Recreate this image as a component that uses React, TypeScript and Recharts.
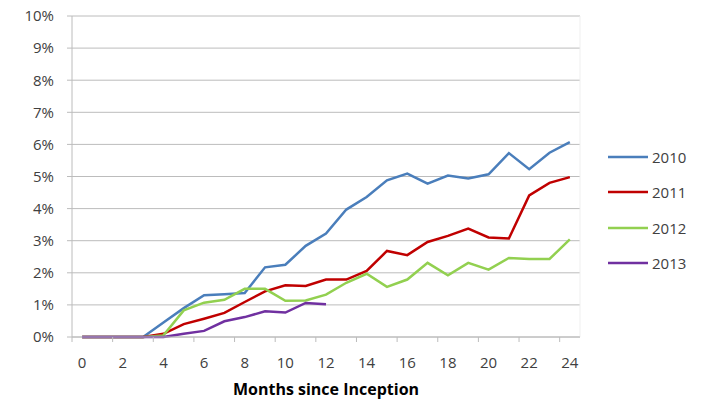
import {
  CartesianGrid,
  Legend,
  Line,
  LineChart,
  ReferenceLine,
  XAxis,
  YAxis,
} from "recharts";

const months = [0, 1, 2, 3, 4, 5, 6, 7, 8, 9, 10, 11, 12, 13, 14, 15, 16, 17, 18, 19, 20, 21, 22, 23, 24];
const monthLabels = [0, 2, 4, 6, 8, 10, 12, 14, 16, 18, 20, 22, 24];
const percentTicks = [0, 1, 2, 3, 4, 5, 6, 7, 8, 9, 10];

const y2010 = [0, 0, 0, 0, 0.45, 0.9, 1.3, 1.33, 1.37, 2.17, 2.25, 2.84, 3.22, 3.97, 4.36, 4.88, 5.09, 4.78, 5.03, 4.94, 5.07, 5.73, 5.23, 5.74, 6.07];
const y2011 = [0, 0, 0, 0, 0.1, 0.4, 0.57, 0.75, 1.09, 1.42, 1.61, 1.59, 1.79, 1.79, 2.06, 2.68, 2.55, 2.96, 3.15, 3.38, 3.1, 3.07, 4.41, 4.8, 4.98];
const y2012 = [0, 0, 0, 0, 0.05, 0.83, 1.07, 1.16, 1.5, 1.5, 1.13, 1.14, 1.32, 1.69, 1.97, 1.56, 1.79, 2.31, 1.92, 2.31, 2.1, 2.46, 2.43, 2.43, 3.04];
const y2013 = [0, 0, 0, 0, 0, 0.1, 0.19, 0.49, 0.62, 0.8, 0.76, 1.06, 1.02];

const series = [
  { key: "2010", color: "#4A7EBB" },
  { key: "2011", color: "#C00000" },
  { key: "2012", color: "#92D050" },
  { key: "2013", color: "#7030A0" },
];

const data = months.map((m, i) => ({
  month: m,
  "2010": y2010[i],
  "2011": y2011[i],
  "2012": y2012[i],
  "2013": i < y2013.length ? y2013[i] : null,
}));

// labels sit on the even months, tick marks fall on the category boundaries
const labelTicks = monthLabels.flatMap((m) => [m - 0.5, m]);

const FONT = "'Open Sans', Lato, sans-serif";
const TEXT = "#404040";
const GRID = "#bcbcbc";

const MonthTick = (props: any) => {
  const { x, y, payload } = props;
  if (payload.value % 1 !== 0) {
    return <line x1={x} x2={x} y1={y} y2={y + 5} stroke={GRID} strokeWidth={1} />;
  }
  return (
    <text x={x} y={y + 31} textAnchor="middle" fontSize={15} fill={TEXT} fontFamily={FONT}>
      {payload.value}
    </text>
  );
};

const renderLegend = () => (
  <div style={{ fontFamily: FONT }}>
    {series.map((s) => (
      <div key={s.key} style={{ display: "flex", alignItems: "center", height: 35.5 }}>
        <svg width={40} height={4}>
          <line x1={0} x2={40} y1={2} y2={2} stroke={s.color} strokeWidth={2.5} />
        </svg>
        <span style={{ fontSize: 15, color: TEXT, marginLeft: 4 }}>{s.key}</span>
      </div>
    ))}
  </div>
);

export default function App() {
  return (
    <div style={{ position: "absolute", left: 0, top: 0, width: 705, height: 400, background: "#fff", fontFamily: FONT }}>
      <LineChart width={705} height={400} data={data} margin={{ top: 16, right: 125, bottom: 0, left: 12 }}>
        <CartesianGrid vertical={false} stroke={GRID} strokeWidth={1} />
        <XAxis
          dataKey="month"
          type="number"
          domain={[-0.5, 24.5]}
          ticks={labelTicks}
          interval={0}
          height={63}
          tickLine={false}
          tickSize={0}
          tickMargin={0}
          axisLine={{ stroke: GRID }}
          tick={<MonthTick />}
          label={{
            value: "Months since Inception",
            position: "insideBottom",
            offset: 5,
            style: { fontSize: 16, fontWeight: "bold", fill: "#000", fontFamily: FONT },
          }}
        />
        <YAxis
          width={60}
          domain={[0, 10]}
          ticks={percentTicks}
          interval={0}
          tickFormatter={(v) => `${v}%`}
          tickSize={5}
          tickMargin={13}
          tickLine={{ stroke: GRID }}
          axisLine={{ stroke: GRID }}
          tick={{ fontSize: 15, fill: TEXT, fontFamily: FONT }}
        />
        <ReferenceLine x={24.5} stroke="#efefef" />
        {series.map((s) => (
          <Line
            key={s.key}
            type="linear"
            dataKey={s.key}
            stroke={s.color}
            strokeWidth={2.5}
            dot={false}
            activeDot={false}
            isAnimationActive={false}
          />
        ))}
        <Legend
          layout="vertical"
          align="center"
          verticalAlign="middle"
          content={renderLegend}
          wrapperStyle={{ left: 608, top: 139, width: 97, height: 142 }}
        />
      </LineChart>
    </div>
  );
}
